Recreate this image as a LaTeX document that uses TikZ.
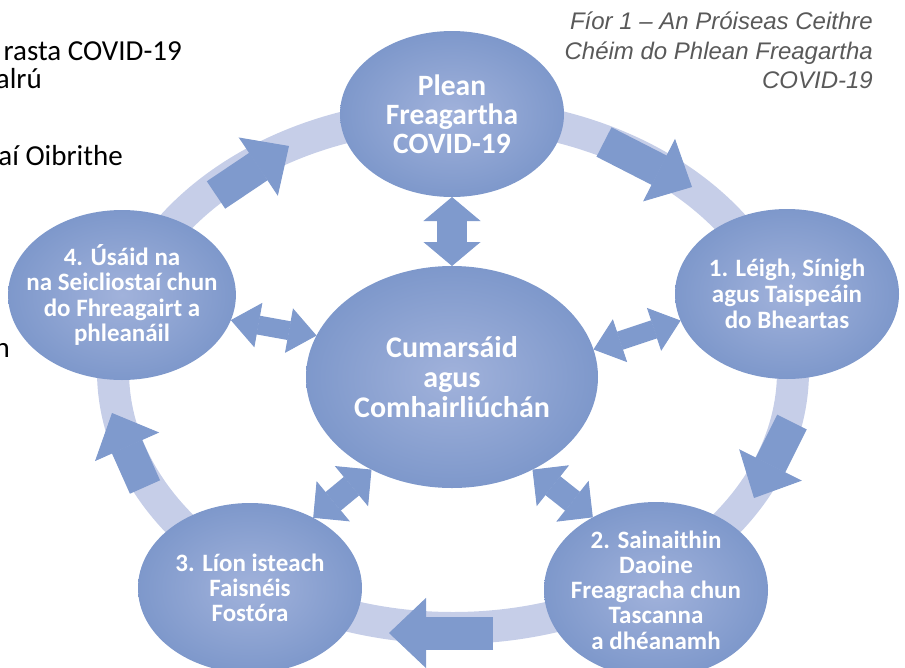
\documentclass[tikz,border=0pt]{standalone}
\usepackage{fontspec}
\setmainfont{Carlito}
\newfontfamily\captionfont{Liberation Sans}
\usetikzlibrary{shapes.geometric, arrows.meta}

\definecolor{ringblue}{RGB}{198,206,232}
\definecolor{arrowblue}{RGB}{127,154,205}
\definecolor{nodelight}{RGB}{161,178,219}
\definecolor{nodedark}{RGB}{126,152,203}
\definecolor{captiongray}{RGB}{89,89,89}

\begin{document}
\begin{tikzpicture}[x=1pt, y=-1pt,
    stage/.style={ellipse, inner color=nodelight, outer color=nodedark, text=white,
        inner sep=-15pt, outer sep=0pt, align=center,
        font=\bfseries\fontsize{25}{25.3}\selectfont},
    hubarrow/.style n args={3}{draw=arrowblue, line width=#1,
        {Triangle[length=#3, width=#2, line width=1pt]}-{Triangle[length=#3, width=#2, line width=1pt]}},
    ringarrow/.style={draw=arrowblue, line width=33pt,
        -{Triangle[length=37pt, width=70pt, line width=1pt]}}]
    % Page frame
    \useasboundingbox (0,0) rectangle (905,667);
    \clip (0,0) rectangle (905,667);

    % Text of the page behind, cut at the left edge
    \begin{scope}[font=\fontsize{29}{28}\selectfont]
        \node[anchor=base east, inner sep=0pt] (bgline1) at (182,60) {rasta COVID-19};
        \node[anchor=base east, inner sep=0pt] (bgline2) at (42,88) {alrú};
        \node[anchor=base east, inner sep=0pt] (bgline3) at (123,165) {aí Oibrithe};
        \node[anchor=base east, inner sep=0pt] (bgline4) at (10,357) {n};
    \end{scope}

    % Caption
    \node[anchor=north east, inner sep=0pt, align=right, text=captiongray,
        font=\captionfont\itshape\fontsize{24}{29.5}\selectfont] (caption) at (873,12)
        {Fíor 1 – An Próiseas Ceithre\\Chéim do Phlean Freagartha\\COVID-19};

    % Ring behind the stages
    \draw[ringblue, line width=32pt] (453,371) ellipse [x radius=340, y radius=257];

    % Stages
    \node[stage, minimum width=224pt, minimum height=166pt,
        font=\bfseries\fontsize{29.5}{29}\selectfont] (plan) at (452,114)
        {Plean\\Freagartha\\COVID-19};
    \node[stage, minimum width=292pt, minimum height=222pt,
        font=\bfseries\fontsize{30}{30}\selectfont] (hub) at (452,377)
        {Cumarsáid\\agus\\Comhairliúchán};
    \node[stage, minimum width=224pt, minimum height=170pt,
        font=\bfseries\fontsize{25}{26}\selectfont] (step1) at (787,294)
        {1. Léigh, Sínigh\\agus Taispeáin\\do Bheartas};
    \node[stage, minimum width=224pt, minimum height=176pt] (step2) at (656,590)
        {2. Sainaithin\\Daoine\\Freagracha chun\\Tascanna\\a dhéanamh};
    \node[stage, minimum width=224pt, minimum height=170pt] (step3) at (250,588)
        {3. Líon isteach\\Faisnéis\\Fostóra};
    \node[stage, minimum width=226pt, minimum height=170pt] (step4) at (122,295)
        {4. Úsáid na\\na Seicliostaí chun\\do Fhreagairt a\\phleanáil};

    % Two-way arrows round the hub
    \draw[hubarrow={30pt}{57pt}{24pt}] (plan.south) -- (hub.north);
    \draw[hubarrow={19pt}{45pt}{28pt}] (hub.11.5) -- (step1.194);
    \draw[hubarrow={19pt}{45pt}{28pt}] (hub.163.5) -- (step4.347);
    \draw[hubarrow={24pt}{52pt}{26pt}] (hub.229) -- (step3.48.5);
    \draw[hubarrow={24pt}{52pt}{26pt}] (hub.311) -- (step2.131);

    % Arrows along the ring
    \coordinate (planout) at (604,142);
    \coordinate (step1in) at (692,187);
    \coordinate (step1out) at (792,422);
    \coordinate (step2in) at (754,498);
    \coordinate (step2out) at (493,633);
    \coordinate (step3in) at (389,633);
    \coordinate (step3out) at (145,487);
    \coordinate (step4in) at (112,413);
    \coordinate (step4out) at (216,195);
    \coordinate (planin) at (289,146);
    \draw[ringarrow] (planout) -- (step1in);
    \draw[ringarrow] (step1out) -- (step2in);
    \draw[ringarrow] (step2out) -- (step3in);
    \draw[ringarrow] (step3out) -- (step4in);
    \draw[ringarrow] (step4out) -- (planin);
\end{tikzpicture}
\end{document}
